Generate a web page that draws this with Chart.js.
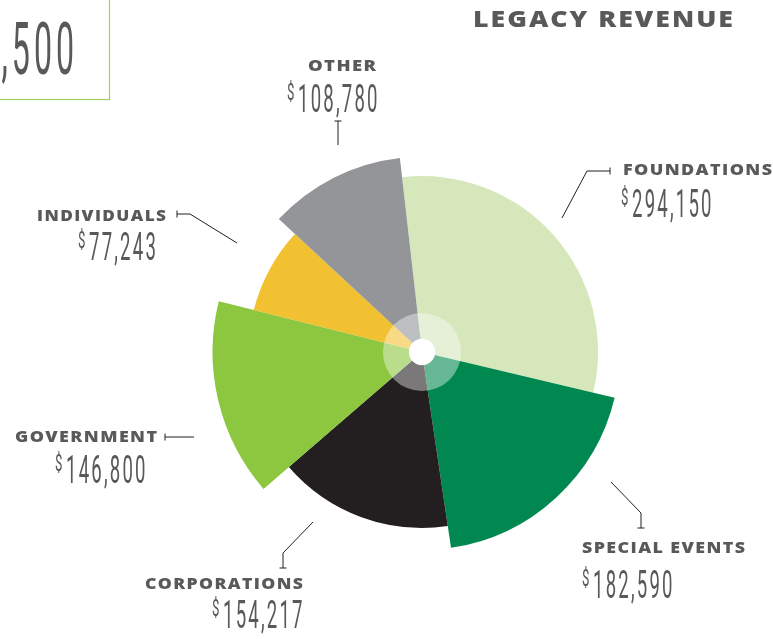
<!DOCTYPE html>
<html>
<head>
<meta charset="utf-8">
<script src="https://cdn.jsdelivr.net/npm/chart.js@4"></script>
<style>
  html, body { margin: 0; padding: 0; background: #fff; }
  #wrap { position: relative; width: 773px; height: 639px; overflow: hidden; }
</style>
</head>
<body>
<div id="wrap"><canvas id="revenueChart"></canvas></div>
<script>
const categories = ['Foundations', 'Special Events', 'Corporations', 'Government', 'Individuals', 'Other'];
const revenue = [294150, 182590, 154217, 146800, 77243, 108780];
const totalVisible = ',500';
const chartTitle = 'LEGACY REVENUE';

const sliceColors = ['#d6e7bb', '#008850', '#231f20', '#8dc63f', '#f2c131', '#939598'];
// how far each slice sticks out, relative to the base radius
const sliceReach = [1.0, 1.125, 1.0, 1.19, 0.985, 1.11];

const inkGrey = '#58595b';
const lineColor = '#231f20';

// label placement: name (left, baseline, width), value (left of $, baseline), leader polyline + end tick
const labelLayout = [
    { nx: 623, ny: 175, nw: 149, vx: 621, vy: 217, line: [[562, 218], [587, 171], [610, 171]], tick: 'v' },
    { nx: 582, ny: 553, nw: 163, vx: 582, vy: 598, line: [[611, 482], [641, 513], [641, 528]], tick: 'h' },
    { nx: 145, ny: 589, nw: 158, vx: 212, vy: 628, line: [[313, 522], [283, 553], [283, 568]], tick: 'h' },
    { nx: 15, ny: 442, nw: 142, vx: 55, vy: 483, line: [[194, 437], [165, 437]], tick: 'v' },
    { nx: 37, ny: 221, nw: 129, vx: 78, vy: 260, line: [[237, 243], [190, 214], [177, 214]], tick: 'v' },
    { nx: 308, ny: 71, nw: 68, vx: 287, vy: 112, line: [[338, 145], [338, 121]], tick: 'h' }
];

function drawCondensed(ctx, text, x, baseline, size, squeeze, spacing, align) {
    ctx.save();
    ctx.translate(x, baseline);
    ctx.scale(squeeze, 1);
    ctx.font = '400 ' + size + 'px Roboto';
    ctx.letterSpacing = (spacing / squeeze) + 'px';
    ctx.textAlign = align || 'left';
    ctx.textBaseline = 'alphabetic';
    ctx.fillText(text, 0, 0);
    ctx.restore();
}

// bold caps, widened to a given width with a small fixed tracking
function drawSpread(ctx, text, x, baseline, size, width, tracking) {
    ctx.save();
    ctx.font = '800 ' + size + 'px "Open Sans"';
    ctx.letterSpacing = '0px';
    const w = ctx.measureText(text).width;
    const stretch = (width - tracking * (text.length - 1)) / w;
    ctx.translate(x, baseline);
    ctx.scale(stretch, 1);
    ctx.letterSpacing = (tracking / stretch) + 'px';
    ctx.textAlign = 'left';
    ctx.textBaseline = 'alphabetic';
    ctx.fillText(text, 0, 0);
    ctx.restore();
}

const reachPlugin = {
    id: 'reach',
    afterDatasetUpdate(chart, args) {
        const meta = args.meta;
        const base = meta.controller.outerRadius;
        meta.data.forEach((arc, i) => {
            arc.outerRadius = base * sliceReach[i];
        });
    },
    afterDatasetsDraw(chart) {
        const meta = chart.getDatasetMeta(0);
        const arc = meta.data[0];
        const base = meta.controller.outerRadius;
        const ctx = chart.ctx;
        ctx.save();
        ctx.beginPath();
        ctx.arc(arc.x, arc.y, base * 0.222, 0, Math.PI * 2);
        ctx.fillStyle = 'rgba(255,255,255,0.4)';
        ctx.fill();
        ctx.beginPath();
        ctx.arc(arc.x, arc.y, base * 0.075, 0, Math.PI * 2);
        ctx.fillStyle = '#fff';
        ctx.fill();
        ctx.restore();
    }
};

const labelPlugin = {
    id: 'labels',
    afterDraw(chart) {
        const ctx = chart.ctx;
        ctx.save();

        // total box, cut off at the corner
        ctx.strokeStyle = '#a2d064';
        ctx.lineWidth = 1.2;
        ctx.strokeRect(-10, -10, 119.5, 109.5);
        ctx.fillStyle = inkGrey;
        drawCondensed(ctx, totalVisible, 78, 74, 73, 0.44, 4, 'right');

        // title
        drawSpread(ctx, chartTitle, 473, 27, 23, 260, 2);

        categories.forEach((name, i) => {
            const L = labelLayout[i];

            // leader line
            ctx.strokeStyle = lineColor;
            ctx.lineWidth = 1;
            ctx.beginPath();
            L.line.forEach((p, j) => j ? ctx.lineTo(p[0], p[1]) : ctx.moveTo(p[0], p[1]));
            const end = L.line[L.line.length - 1];
            if (L.tick === 'v') {
                ctx.moveTo(end[0], end[1] - 3.5);
                ctx.lineTo(end[0], end[1] + 3.5);
            } else {
                ctx.moveTo(end[0] - 3.5, end[1]);
                ctx.lineTo(end[0] + 3.5, end[1]);
            }
            ctx.stroke();

            // category name
            ctx.fillStyle = inkGrey;
            drawSpread(ctx, name.toUpperCase(), L.nx, L.ny, 16, L.nw, 1.4);

            // value with superscript dollar sign
            drawCondensed(ctx, '$', L.vx, L.vy - 12, 24, 0.55, 0);
            drawCondensed(ctx, revenue[i].toLocaleString('en-US'), L.vx + 11, L.vy, 39.5, 0.47, 2.2);
        });

        ctx.restore();
    }
};

new Chart(document.getElementById('revenueChart'), {
    type: 'pie',
    data: {
        labels: categories,
        datasets: [{
            data: revenue,
            backgroundColor: sliceColors,
            borderWidth: 0,
            hoverOffset: 0
        }]
    },
    options: {
        responsive: true,
        maintainAspectRatio: false,
        animation: false,
        rotation: -6.5,
        layout: {
            padding: { left: 246, right: 175, top: 176, bottom: 111 }
        },
        plugins: {
            legend: { display: false },
            tooltip: { enabled: false },
            title: { display: false }
        }
    },
    plugins: [reachPlugin, labelPlugin]
});
</script>
</body>
</html>
